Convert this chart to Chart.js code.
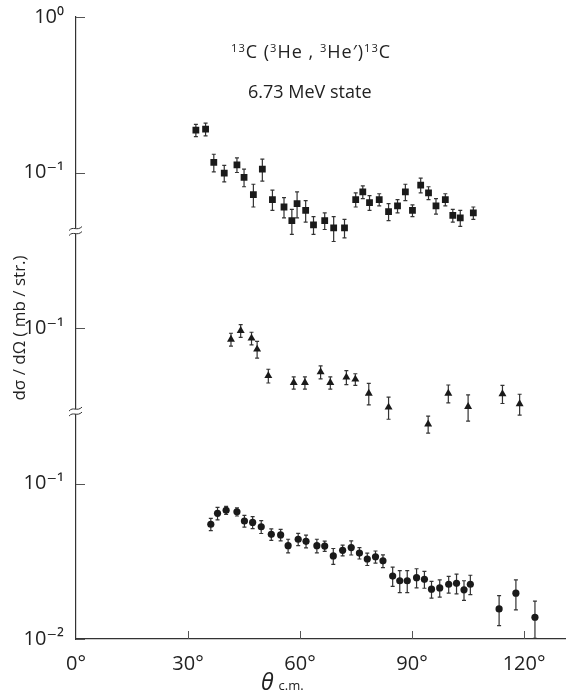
<!DOCTYPE html>
<html>
<head>
<meta charset="utf-8">
<script src="https://cdn.jsdelivr.net/npm/chart.js@4/dist/chart.umd.min.js"></script>
<style>
  body { margin: 0; background: #fff; }
  #wrap { position: relative; width: 570px; height: 695px; }
  .note {
    position: absolute;
    font-family: "Open Sans", "DejaVu Sans", sans-serif;
    color: #222;
    white-space: nowrap;
    line-height: 1;
  }
  .note sup { font-size: 62%; vertical-align: 0.55em; }
</style>
</head>
<body>
<div id="wrap">
  <canvas id="chart" width="570" height="695"></canvas>
  <div class="note" style="left:231px; top:42px; font-size:18px; letter-spacing:1px;"><sup>13</sup>C (<sup>3</sup>He , <sup>3</sup>He′)<sup>13</sup>C</div>
  <div class="note" style="left:248px; top:82px; font-size:18px;">6.73 MeV state</div>
  <div class="note" style="left:261px; top:670px; font-size:23px;"><i>θ</i><span style="font-size:13px; margin-left:5px;">c.m.</span></div>
</div>
<script>
// theta (deg, c.m.), d sigma / d omega (mb/str.) and errors
const squareAngles = [32.1, 34.7, 36.9, 39.7, 43.1, 45.0, 47.5, 49.9, 52.6, 55.7, 57.8, 59.2, 61.5, 63.6, 66.6, 69.0,
  71.9, 74.9, 76.8, 78.6, 81.2, 83.7, 86.1, 88.2, 90.1, 92.3, 94.4, 96.4, 98.9, 100.9, 102.9, 106.4];
const squareValues = [0.187, 0.190, 0.116, 0.099, 0.112, 0.093, 0.072, 0.105, 0.067, 0.060, 0.049, 0.063, 0.057, 0.046, 0.049, 0.044,
  0.044, 0.067, 0.075, 0.064, 0.067, 0.056, 0.061, 0.075, 0.057, 0.083, 0.074, 0.061, 0.067, 0.053, 0.051, 0.055];
const squareErrors = [0.017, 0.018, 0.015, 0.012, 0.012, 0.012, 0.012, 0.017, 0.010, 0.009, 0.009, 0.012, 0.009, 0.006, 0.006, 0.008,
  0.006, 0.007, 0.007, 0.007, 0.006, 0.007, 0.006, 0.009, 0.005, 0.009, 0.007, 0.007, 0.006, 0.005, 0.006, 0.005];

const triangleAngles = [41.5, 44.1, 47.0, 48.5, 51.5, 58.3, 61.3, 65.5, 68.1, 72.4, 74.8, 78.4, 83.7, 94.3, 99.7, 105.0, 114.2, 118.8];
const triangleValues = [0.0845, 0.0961, 0.0859, 0.0730, 0.0493, 0.0445, 0.0445, 0.0521, 0.0445, 0.0482, 0.0468, 0.0380, 0.0309,
  0.0241, 0.0380, 0.0312, 0.0377, 0.0325];
const triangleErrors = [0.008, 0.009, 0.008, 0.009, 0.005, 0.004, 0.004, 0.005, 0.004, 0.005, 0.004, 0.006, 0.005,
  0.003, 0.005, 0.006, 0.005, 0.005];

const circleAngles = [36.1, 37.9, 40.2, 43.1, 45.1, 47.3, 49.6, 52.3, 54.8, 56.8, 59.5, 61.6, 64.5, 66.6, 68.9, 71.4, 73.7, 75.9,
  78.0, 80.2, 82.2, 84.8, 86.7, 88.7, 91.2, 93.3, 95.2, 97.4, 99.8, 101.9, 103.9, 105.6, 113.3, 117.8, 122.9];
const circleValues = [0.0547, 0.0643, 0.0672, 0.0658, 0.0574, 0.0562, 0.0527, 0.0471, 0.0467, 0.0398, 0.0438, 0.0425, 0.0398, 0.0396,
  0.0342, 0.0372, 0.0387, 0.0357, 0.0327, 0.0338, 0.0318, 0.0254, 0.0237, 0.0237, 0.0248, 0.0242, 0.0209, 0.0213, 0.0225,
  0.0228, 0.0207, 0.0225, 0.0156, 0.0197, 0.0138];
const circleErrors = [0.005, 0.006, 0.004, 0.004, 0.005, 0.005, 0.005, 0.004, 0.004, 0.004, 0.004, 0.004, 0.004, 0.003,
  0.004, 0.003, 0.004, 0.003, 0.003, 0.003, 0.003, 0.0036, 0.0038, 0.0038, 0.0035, 0.003, 0.0026, 0.0027, 0.0028,
  0.0033, 0.003, 0.0032, 0.0034, 0.0043, 0.0037];

// each panel is shifted up by whole decades on one shared log axis
const panelShift = [100, 10, 1];
const yTickValues = [100, 10, 1, 0.1, 0.01];
const yTickLabels = ["10⁰", "10⁻¹", "10⁻¹", "10⁻¹", "10⁻²"];
const xTickValues = [0, 30, 60, 90, 120];
const axisBreaks = [4.2, 0.29];

const ink = "#1a1a1a";

const makeSet = (angles, values, errors, shift, style, radius) => ({
  data: angles.map((a, i) => ({ x: a, y: values[i] * shift, err: errors[i] * shift })),
  pointStyle: style,
  pointRadius: radius,
  backgroundColor: ink,
  borderColor: ink,
  borderWidth: 0,
  showLine: false,
});

const errorBars = {
  id: "errorBars",
  beforeDatasetsDraw(chart) {
    const { ctx, scales: { x, y } } = chart;
    ctx.save();
    ctx.strokeStyle = "#333";
    ctx.lineWidth = 1.2;
    chart.data.datasets.forEach((ds) => {
      ds.data.forEach((p) => {
        const px = x.getPixelForValue(p.x);
        const top = y.getPixelForValue(p.y + p.err);
        const bot = y.getPixelForValue(Math.max(p.y - p.err, 1e-4));
        ctx.beginPath();
        ctx.moveTo(px, top);
        ctx.lineTo(px, bot);
        ctx.moveTo(px - 2, top);
        ctx.lineTo(px + 2, top);
        ctx.moveTo(px - 2, bot);
        ctx.lineTo(px + 2, bot);
        ctx.stroke();
      });
    });
    ctx.restore();
  },
};

const axisMarks = {
  id: "axisMarks",
  afterDraw(chart) {
    const { ctx, chartArea, scales: { x, y } } = chart;
    ctx.save();
    ctx.strokeStyle = "#555";
    ctx.lineWidth = 1;
    // inward ticks
    yTickValues.forEach((v) => {
      const py = Math.round(y.getPixelForValue(v)) + 0.5;
      ctx.beginPath();
      ctx.moveTo(chartArea.left, py);
      ctx.lineTo(chartArea.left + 9, py);
      ctx.stroke();
    });
    xTickValues.slice(1).forEach((v) => {
      const px = Math.round(x.getPixelForValue(v)) + 0.5;
      ctx.beginPath();
      ctx.moveTo(px, chartArea.bottom);
      ctx.lineTo(px, chartArea.bottom - 8);
      ctx.stroke();
    });
    // axis breaks
    axisBreaks.forEach((v) => {
      const py = y.getPixelForValue(v);
      const px = chartArea.left;
      ctx.fillStyle = "#fff";
      ctx.fillRect(px - 2, py - 2.5, 4, 5);
      ctx.strokeStyle = "#333";
      [-2.5, 2.5].forEach((d) => {
        ctx.beginPath();
        ctx.moveTo(px - 7, py + d + 2);
        ctx.bezierCurveTo(px - 3, py + d - 3, px + 1, py + d + 3, px + 6, py + d - 2);
        ctx.stroke();
      });
    });
    ctx.restore();
  },
};

new Chart(document.getElementById("chart"), {
  type: "scatter",
  data: {
    datasets: [
      makeSet(squareAngles, squareValues, squareErrors, panelShift[0], "rect", 4.8),
      makeSet(triangleAngles, triangleValues, triangleErrors, panelShift[1], "triangle", 4.6),
      makeSet(circleAngles, circleValues, circleErrors, panelShift[2], "circle", 3.6),
    ],
  },
  options: {
    responsive: false,
    animation: false,
    layout: { padding: { top: 17, right: 0, left: 0, bottom: 0 } },
    plugins: { legend: { display: false }, tooltip: { enabled: false } },
    scales: {
      x: {
        type: "linear",
        min: 0,
        max: 131,
        afterBuildTicks: (s) => { s.ticks = xTickValues.map((v) => ({ value: v })); },
        afterFit: (s) => { s.height = 56; },
        grid: { display: false },
        border: { display: true, color: "#333", width: 1.2 },
        ticks: {
          padding: 5,
          color: "#222",
          font: { size: 20, family: '"Open Sans", "DejaVu Sans", sans-serif' },
          callback: (v) => v + "°",
        },
      },
      y: {
        type: "logarithmic",
        min: 0.01,
        max: 100,
        afterBuildTicks: (s) => { s.ticks = yTickValues.map((v) => ({ value: v })); },
        afterFit: (s) => { s.width = 76; },
        grid: { display: false },
        border: { display: true, color: "#333", width: 1.2 },
        ticks: {
          padding: 4,
          color: "#222",
          font: { size: 20, family: '"Open Sans", "DejaVu Sans", sans-serif' },
          callback: (v) => yTickLabels[yTickValues.indexOf(v)] ?? "",
        },
        title: {
          display: true,
          text: "dσ / dΩ ( mb / str.)",
          color: "#222",
          padding: { top: 10, bottom: 0 },
          font: { size: 17, family: '"Open Sans", "DejaVu Sans", sans-serif' },
        },
      },
    },
  },
  plugins: [errorBars, axisMarks],
});
</script>
</body>
</html>
